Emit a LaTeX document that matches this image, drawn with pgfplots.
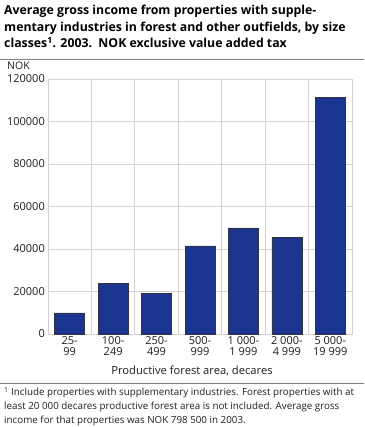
\documentclass[border=0pt]{standalone}
\usepackage{pgfplots}
\pgfplotsset{compat=1.18}
\usepackage{fontspec}
\setmainfont{Open Sans}
\definecolor{barblue}{RGB}{27,52,144}
\definecolor{baredge}{RGB}{50,52,70}
\definecolor{gridgray}{RGB}{210,210,210}
\definecolor{txt}{RGB}{30,30,30}
\begin{document}
\begin{tikzpicture}
\path[use as bounding box] (0pt,0pt) rectangle (364pt,-427pt);
\node[anchor=north west, align=left, inner sep=0pt, font=\fontsize{12.3}{16.5}\selectfont\bfseries, text=black] at (4pt,-5pt)
{Average gross income from properties with supple-\\mentary industries in forest and other outfields, by size\\classes\textsuperscript{1}. 2003.\ \ NOK exclusive value added tax};
\draw[gray, line width=0.8pt] (0pt,-59pt) -- (364pt,-59pt);
\node[anchor=west, inner sep=0pt, font=\fontsize{10.5}{11}\selectfont, text=txt] at (7pt,-66pt) {NOK};
\begin{axis}[
  at={(48pt,-334pt)}, anchor=south west,
  scale only axis, width=304pt, height=255pt,
  xmin=-0.5, xmax=6.5, ymin=0, ymax=120000,
  ytick={0,20000,...,120000},
  scaled y ticks=false,
  yticklabel style={/pgf/number format/fixed, /pgf/number format/1000 sep={}, font=\fontsize{11}{12}\selectfont, text=txt, inner sep=1pt, xshift=-2pt},
  /pgf/number format/assume math mode=true,
  xtick={0,...,6},
  xticklabels={{25-\\99},{100-\\249},{250-\\499},{500-\\999},{1 000-\\1 999},{2 000-\\4 999},{5 000-\\19 999}},
  xticklabel style={align=center, font=\fontsize{11}{11.5}\selectfont, text=txt, inner sep=1pt, yshift=-1pt},
  minor xtick={-0.5,0.5,...,6.5},
  xminorgrids, ymajorgrids,
  grid style={gridgray, line width=0.8pt},
  minor grid style={gridgray, line width=0.8pt},
  axis line style={gridgray, line width=0.8pt},
  major tick length=0pt, minor tick length=0pt,
  tick style={draw=none},
  ybar, bar width=30pt,
  clip=false,
]
\addplot[fill=barblue, draw=baredge, line width=0.5pt] coordinates {
(0,10000) (1,24000) (2,19000) (3,41500) (4,50000) (5,45300) (6,111500)};
\end{axis}
\node[anchor=center, inner sep=0pt, font=\fontsize{11.2}{12}\selectfont, text=txt] at (192pt,-371pt) {Productive forest area, decares};
\draw[gray, line width=0.8pt] (0pt,-383pt) -- (364pt,-383pt);
\node[anchor=north west, align=left, inner sep=0pt, font=\fontsize{9.8}{14}\selectfont, text=txt] at (4pt,-387pt)
{\textsuperscript{1} Include properties with supplementary industries. Forest properties with at\\least 20 000 decares productive forest area is not included. Average gross\\income for that properties was NOK 798 500 in 2003.};
\end{tikzpicture}
\end{document}
